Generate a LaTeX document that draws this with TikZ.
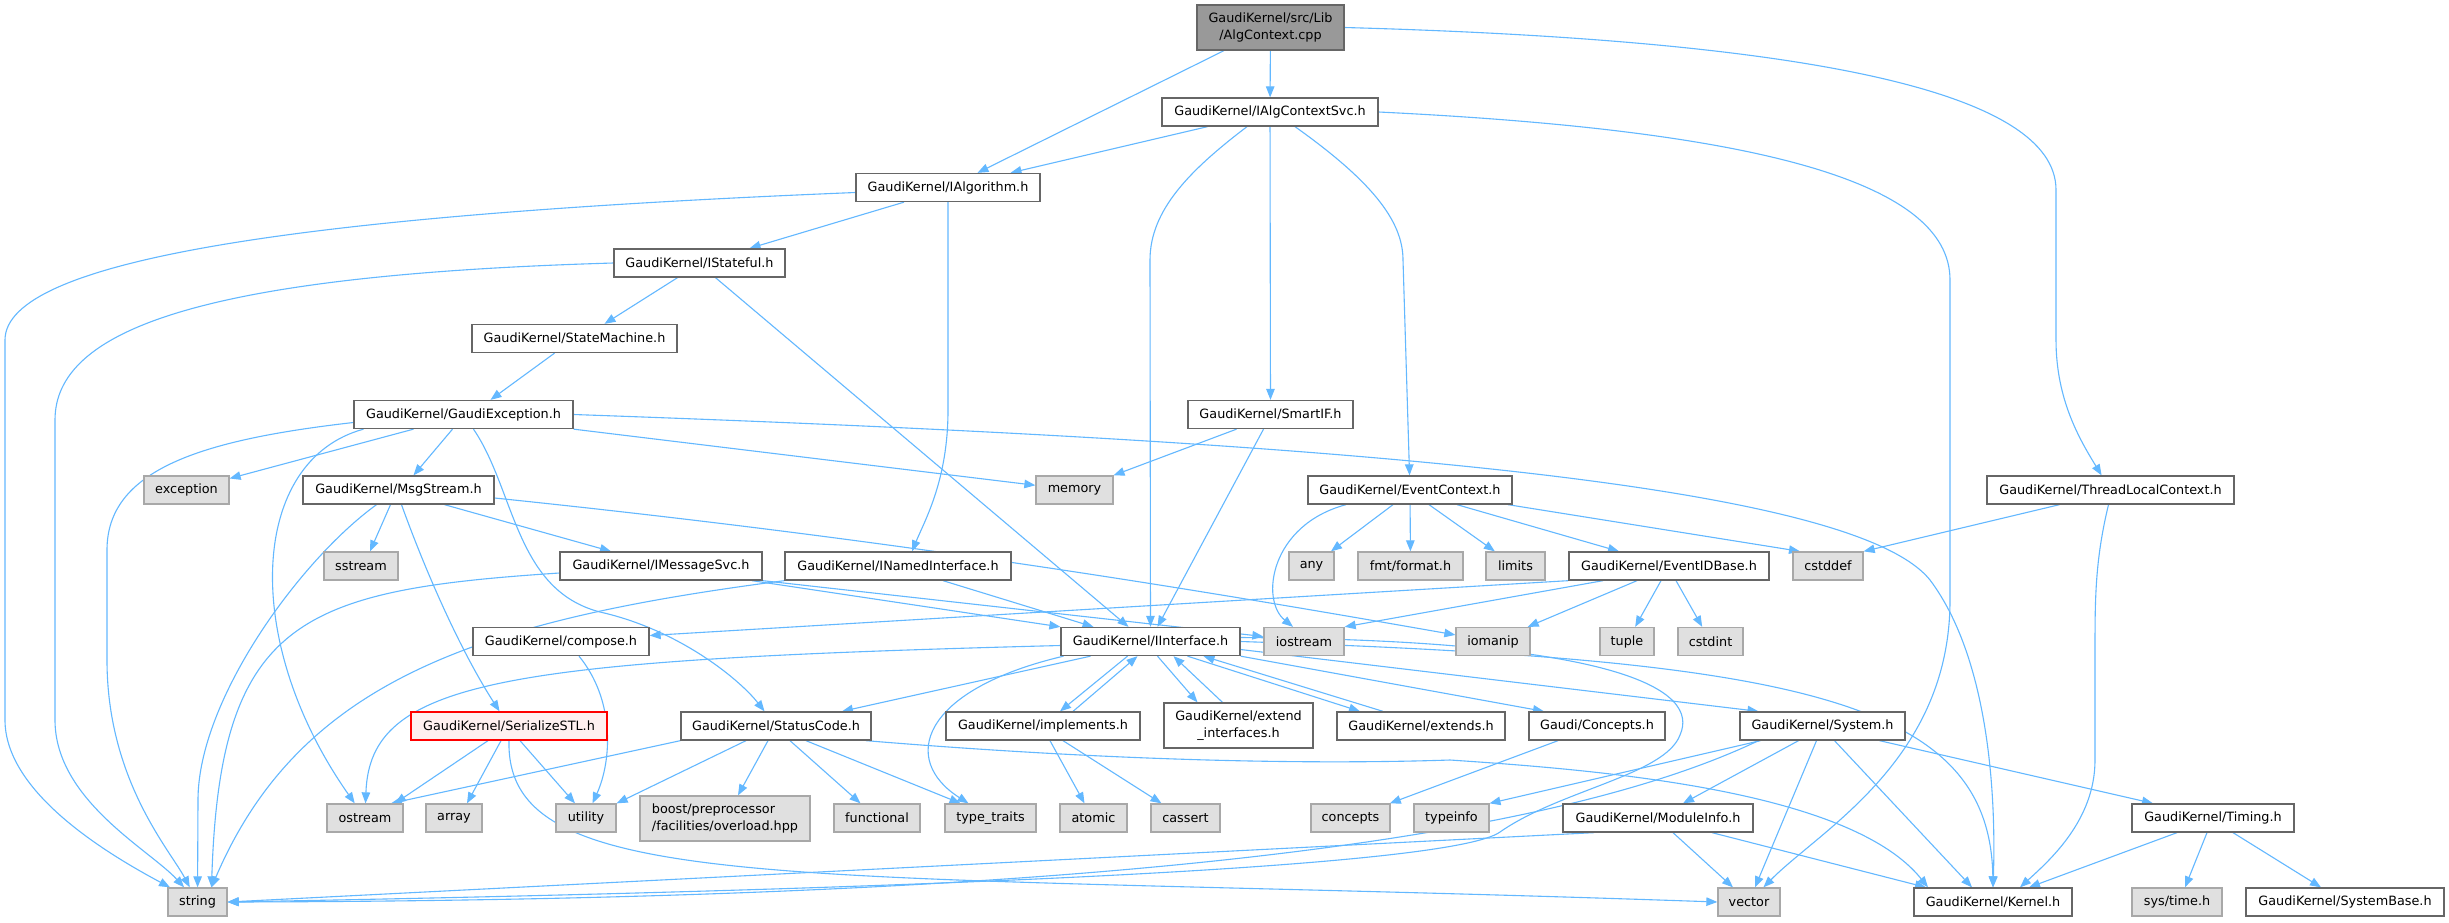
\documentclass[tikz,border=0pt]{standalone}
\usepackage{fontspec}
\setmainfont{DejaVu Sans}
\usetikzlibrary{arrows.meta}
\definecolor{edgec}{HTML}{63B8FF}
\definecolor{boxb}{HTML}{666666}
\definecolor{sysb}{HTML}{A8A8A8}
\definecolor{sysf}{HTML}{E0E0E0}
\definecolor{topf}{HTML}{999999}
\definecolor{redf}{HTML}{FFF0F0}
\pgfdeclarelayer{back}
\pgfdeclarelayer{bg}
\pgfsetlayers{back,bg,main}
\begin{document}
\begin{tikzpicture}[x=1pt,y=-1pt,
 nb/.style={draw=boxb, fill=white, line width=1.3pt, minimum height=28pt, inner sep=0pt, font=\fontsize{12.8}{16.5}\selectfont, text=black},
 sb/.style={nb, draw=sysb, fill=sysf},
 edge/.style={draw=edgec, line width=1.1pt, -{Triangle[length=11pt,width=8.5pt]}}
]
\begin{pgfonlayer}{back}
\fill[white] (0,0) rectangle (2449,922);
\end{pgfonlayer}
\useasboundingbox (0,0) rectangle (2449,922);

\node[nb, minimum width=147pt, minimum height=45pt, fill=topf, align=center] (top) at (1270.5,27.5) {GaudiKernel/src/Lib\\/AlgContext.cpp};
\node[nb, minimum width=216pt] (ialgctx) at (1270,112) {GaudiKernel/IAlgContextSvc.h};
\node[nb, minimum width=184pt] (ialg) at (948,187.5) {GaudiKernel/IAlgorithm.h};
\node[nb, minimum width=171pt] (istate) at (699.5,263) {GaudiKernel/IStateful.h};
\node[nb, minimum width=205pt] (statem) at (574.5,338.5) {GaudiKernel/StateMachine.h};
\node[nb, minimum width=219pt] (gexc) at (463.5,414.5) {GaudiKernel/GaudiException.h};
\node[nb, minimum width=165pt] (smartif) at (1270.5,414.5) {GaudiKernel/SmartIF.h};
\node[sb, minimum width=85pt] (exception) at (186.5,490) {exception};
\node[nb, minimum width=191pt] (msgs) at (398.5,490) {GaudiKernel/MsgStream.h};
\node[sb, minimum width=77pt] (memory) at (1074.5,490) {memory};
\node[nb, minimum width=204pt] (evctx) at (1410,490) {GaudiKernel/EventContext.h};
\node[nb, minimum width=247pt] (tlc) at (2110.5,490) {GaudiKernel/ThreadLocalContext.h};
\node[sb, minimum width=74pt] (sstream) at (361,566) {sstream};
\node[nb, minimum width=202pt] (imsg) at (661,566) {GaudiKernel/IMessageSvc.h};
\node[nb, minimum width=226pt] (inamed) at (898,566) {GaudiKernel/INamedInterface.h};
\node[sb, minimum width=45pt] (any) at (1311.5,566) {any};
\node[sb, minimum width=105pt] (fmt) at (1410.5,566) {fmt/format.h};
\node[sb, minimum width=59pt] (limits) at (1515.5,566) {limits};
\node[nb, minimum width=200pt] (evid) at (1669,566) {GaudiKernel/EventIDBase.h};
\node[sb, minimum width=70pt] (cstddef) at (1828,566) {cstddef};
\node[nb, minimum width=176pt] (compose) at (561,641.5) {GaudiKernel/compose.h};
\node[nb, minimum width=179pt] (iint) at (1150.5,641.5) {GaudiKernel/IInterface.h};
\node[sb, minimum width=80pt] (iostream) at (1304,641.5) {iostream};
\node[sb, minimum width=74pt] (iomanip) at (1493,641.5) {iomanip};
\node[sb, minimum width=54pt] (tuple) at (1627,641.5) {tuple};
\node[sb, minimum width=65pt] (cstdint) at (1710.5,641.5) {cstdint};
\node[nb, minimum width=196pt, draw=red, fill=redf] (serial) at (509,726) {GaudiKernel/SerializeSTL.h};
\node[nb, minimum width=190pt] (status) at (776,726) {GaudiKernel/StatusCode.h};
\node[nb, minimum width=194pt] (impl) at (1043,726) {GaudiKernel/implements.h};
\node[nb, minimum width=149pt, minimum height=45pt, align=center] (extint) at (1238.5,725.5) {GaudiKernel/extend\\\_interfaces.h};
\node[nb, minimum width=168pt] (extends) at (1421,726) {GaudiKernel/extends.h};
\node[nb, minimum width=136pt] (concH) at (1597,726) {Gaudi/Concepts.h};
\node[nb, minimum width=165pt] (system) at (1822.5,726) {GaudiKernel/System.h};
\node[sb, minimum width=76pt] (ostream) at (365,818) {ostream};
\node[sb, minimum width=56pt] (array) at (454,818) {array};
\node[sb, minimum width=60pt] (utility) at (586,818) {utility};
\node[sb, minimum width=170pt, minimum height=45pt, align=left] (boost) at (725,818.5) {boost/preprocessor\\/facilities/overload.hpp};
\node[sb, minimum width=86pt] (functional) at (877,818) {functional};
\node[sb, minimum width=91pt] (typetraits) at (990.5,818) {type\_traits};
\node[sb, minimum width=67pt] (atomic) at (1093.5,818) {atomic};
\node[sb, minimum width=69pt] (cassert) at (1185.5,818) {cassert};
\node[sb, minimum width=79pt] (concepts) at (1350.5,818) {concepts};
\node[sb, minimum width=75pt] (typeinfo) at (1451.5,818) {typeinfo};
\node[nb, minimum width=190pt] (modinfo) at (1658,818) {GaudiKernel/ModuleInfo.h};
\node[nb, minimum width=162pt] (timing) at (2213,818) {GaudiKernel/Timing.h};
\node[sb, minimum width=59pt] (string) at (197.5,902) {string};
\node[sb, minimum width=62pt] (vector) at (1749,902) {vector};
\node[nb, minimum width=158pt] (kernel) at (1993,902) {GaudiKernel/Kernel.h};
\node[sb, minimum width=90pt] (systime) at (2177,902) {sys/time.h};
\node[nb, minimum width=198pt] (sysbase) at (2345,902) {GaudiKernel/SystemBase.h};

\begin{pgfonlayer}{bg}
% top
\draw[edge] (top) -- (ialg);
\draw[edge] (top) -- (ialgctx);
\draw[edge] (top.east) .. controls (1800,40) and (2056,90) .. (2056,190) -- (2056,340) .. controls (2056,400) and (2080,440) .. (tlc);
% IAlgContextSvc
\draw[edge] (ialgctx) -- (ialg);
\draw[edge] (ialgctx) -- (smartif);
\draw[edge] ([xshift=-23pt]ialgctx.south) .. controls (1190,170) and (1150,210) .. (1150,260) -- (iint);
\draw[edge] ([xshift=25pt]ialgctx.south) .. controls (1370,180) and (1403,220) .. (1403,260) -- (evctx);
\draw[edge] (ialgctx.east) .. controls (1750,130) and (1950,180) .. (1950,280) -- (1950,600) .. controls (1950,760) and (1820,830) .. (vector);
% IAlgorithm
\draw[edge] ([yshift=-5pt]ialg.west) .. controls (300,215) and (5,260) .. (5,340) -- (5,720) .. controls (5,790) and (100,850) .. (string);
\draw[edge] ([xshift=-44pt]ialg.south) -- ([xshift=50pt]istate.north);
\draw[edge] (ialg.south) -- (948,410) .. controls (948,480) and (925,520) .. ([xshift=14pt]inamed.north);
% IStateful
\draw[edge] (istate.west) .. controls (200,275) and (55,330) .. (55,420) -- (55,720) .. controls (55,800) and (150,850) .. (string);
\draw[edge] ([xshift=-22pt]istate.south) -- ([xshift=30pt]statem.north);
\draw[edge] ([xshift=16pt]istate.south) -- ([xshift=-22pt]iint.north);
% StateMachine
\draw[edge] ([xshift=-20pt]statem.south) -- ([xshift=27pt]gexc.north);
% GaudiException
\draw[edge] ([yshift=-8pt]gexc.west) .. controls (200,440) and (107,470) .. (107,550) -- (107,660) .. controls (107,780) and (170,850) .. (string);
\draw[edge] ([xshift=-50pt]gexc.south) -- (exception);
\draw[edge] ([xshift=-11pt]gexc.south) -- ([xshift=15pt]msgs.north);
\draw[edge] ([xshift=-100pt]gexc.south) .. controls (250,460) and (240,640) .. (ostream);
\draw[edge] (gexc.south east) -- (memory);
\draw[edge] ([xshift=10pt]gexc.south) .. controls (515,490) and (515,590) .. (600,612) .. controls (680,630) and (740,680) .. (status);
\draw[edge] (gexc.east) .. controls (1300,440) and (1850,480) .. (1930,580) .. controls (1990,660) and (1996,800) .. (kernel.north);
% SmartIF
\draw[edge] ([xshift=-34pt]smartif.south) -- (memory);
\draw[edge] ([xshift=-7pt]smartif.south) -- ([xshift=7pt]iint.north);
% MsgStream
\draw[edge] ([xshift=-22pt]msgs.south) .. controls (300,560) and (198,700) .. (198,800) -- (string);
\draw[edge] ([xshift=-8pt]msgs.south) -- ([xshift=9pt]sstream.north);
\draw[edge] ([xshift=46pt]msgs.south) -- ([xshift=-50pt]imsg.north);
\draw[edge] ([xshift=3pt]msgs.south) .. controls (425,570) and (460,650) .. (serial);
\draw[edge] ([yshift=-8pt]msgs.east) .. controls (900,540) and (1200,590) .. (iomanip);
% IMessageSvc
\draw[edge] ([yshift=-7pt]imsg.west) .. controls (300,590) and (220,620) .. ([xshift=14pt]string.north);
\draw[edge] ([xshift=91pt]imsg.south) -- (iint.north west);
\draw[edge] (imsg.south east) -- ([yshift=5pt]iostream.west);
% INamedInterface
\draw[edge] (inamed.south west) .. controls (480,620) and (300,680) .. ([xshift=14pt]string.north);
\draw[edge] ([xshift=45pt]inamed.south) -- ([xshift=-57pt]iint.north);
% EventContext
\draw[edge] ([xshift=-64pt]evctx.south) .. controls (1270,525) and (1260,600) .. ([xshift=-11pt]iostream.north);
\draw[edge] ([xshift=-17pt]evctx.south) -- (any);
\draw[edge] (evctx) -- (fmt);
\draw[edge] ([xshift=19pt]evctx.south) -- (limits);
\draw[edge] ([xshift=47pt]evctx.south) -- ([xshift=-50pt]evid.north);
\draw[edge] ([xshift=98pt]evctx.south) -- ([xshift=-28pt]cstddef.north);
% ThreadLocalContext
\draw[edge] ([xshift=-51pt]tlc.south) -- (cstddef.north east);
\draw[edge] ([xshift=-2pt]tlc.south) .. controls (2095,560) and (2095,600) .. (2095,650) -- (2095,760) .. controls (2095,820) and (2050,860) .. ([xshift=27pt]kernel.north);
% EventIDBase
\draw[edge] (evid.south west) -- ([yshift=6pt]compose.east);
\draw[edge] ([xshift=-66pt]evid.south) -- (iostream.north east);
\draw[edge] ([xshift=-32pt]evid.south) -- (iomanip);
\draw[edge] ([xshift=-8pt]evid.south) -- (tuple);
\draw[edge] ([xshift=7pt]evid.south) -- (cstdint);
% compose
\draw[edge] ([xshift=18pt]compose.south) .. controls (615,700) and (612,760) .. (utility);
% IInterface
\draw[edge] ([yshift=-4pt]iint.west) .. controls (500,660) and (370,680) .. (ostream);
\draw[edge] ([xshift=-60pt]iint.south) -- (status);
\draw[edge] ([xshift=-87pt]iint.south) .. controls (920,690) and (900,760) .. ([xshift=-22pt]typetraits.north);
\draw[edge] ([xshift=-23pt]iint.south) -- ([xshift=17pt]impl.north);
\draw[edge] ([xshift=30pt]impl.north) -- ([xshift=-13pt]iint.south);
\draw[edge] ([xshift=7pt]iint.south) -- ([xshift=-41pt]extint.north);
\draw[edge] ([xshift=-16pt]extint.north) -- ([xshift=23pt]iint.south);
\draw[edge] ([xshift=37pt]iint.south) -- ([xshift=-61pt]extends.north);
\draw[edge] ([xshift=-38pt]extends.north) -- ([xshift=53pt]iint.south);
\draw[edge] (iint.south east) -- ([xshift=-53pt]concH.north);
\draw[edge] ([yshift=-8pt]iint.east) -- ([xshift=-64pt]system.north);
\draw[edge] (iint.east) .. controls (1800,660) and (1990,700) .. (kernel.north);
\draw[edge] ([yshift=4pt]iint.east) .. controls (1620,640) and (1700,690) .. (1680,735) .. controls (1665,775) and (1560,790) .. (1500,832) .. controls (1450,868) and (900,890) .. (string.east);
% StatusCode
\draw[edge] (status.south west) -- ([xshift=26pt]ostream.north);
\draw[edge] ([xshift=-30pt]status.south) -- (utility.north east);
\draw[edge] ([xshift=-8pt]status.south) -- ([xshift=13pt]boost.north);
\draw[edge] ([xshift=14pt]status.south) -- (functional);
\draw[edge] ([xshift=30pt]status.south) -- ([xshift=-30pt]typetraits.north);
\draw[edge] ([xshift=90pt]status.south) .. controls (1100,760) and (1300,765) .. (1450,760) .. controls (1600,770) and (1850,790) .. ([xshift=-65pt]kernel.north);
% SerializeSTL
\draw[edge] ([xshift=-21pt]serial.south) -- ([xshift=30pt]ostream.north);
\draw[edge] ([xshift=-8pt]serial.south) -- ([xshift=13pt]array.north);
\draw[edge] ([xshift=11pt]serial.south) -- ([xshift=-11pt]utility.north);
\draw[edge] (serial.south) .. controls (505,900) and (800,870) .. (vector.west);
% implements
\draw[edge] ([xshift=7pt]impl.south) -- ([xshift=-9pt]atomic.north);
\draw[edge] ([xshift=20pt]impl.south) -- ([xshift=-24pt]cassert.north);
% Concepts
\draw[edge] ([xshift=-39pt]concH.south) -- (concepts);
% System
\draw[edge] ([xshift=-62pt]system.south) -- ([xshift=38pt]typeinfo.north);
\draw[edge] ([xshift=-64pt]system.south) .. controls (1550,840) and (1100,900) .. (string.east);
\draw[edge] ([xshift=-24pt]system.south) -- ([xshift=25pt]modinfo.north);
\draw[edge] ([xshift=-6pt]system.south) -- ([xshift=6pt]vector.north);
\draw[edge] ([xshift=12pt]system.south) -- ([xshift=-21pt]kernel.north);
\draw[edge] ([xshift=57pt]system.south) -- ([xshift=-60pt]timing.north);
% ModuleInfo
\draw[edge] ([xshift=-64pt]modinfo.south) -- (string.east);
\draw[edge] ([xshift=15pt]modinfo.south) -- ([xshift=-16pt]vector.north);
\draw[edge] ([xshift=54pt]modinfo.south) -- ([xshift=-67pt]kernel.north);
% Timing
\draw[edge] ([xshift=-36pt]timing.south) -- ([xshift=36pt]kernel.north);
\draw[edge] ([xshift=-6pt]timing.south) -- ([xshift=8pt]systime.north);
\draw[edge] ([xshift=20pt]timing.south) -- ([xshift=-24pt]sysbase.north);
\end{pgfonlayer}
\end{tikzpicture}
\end{document}
